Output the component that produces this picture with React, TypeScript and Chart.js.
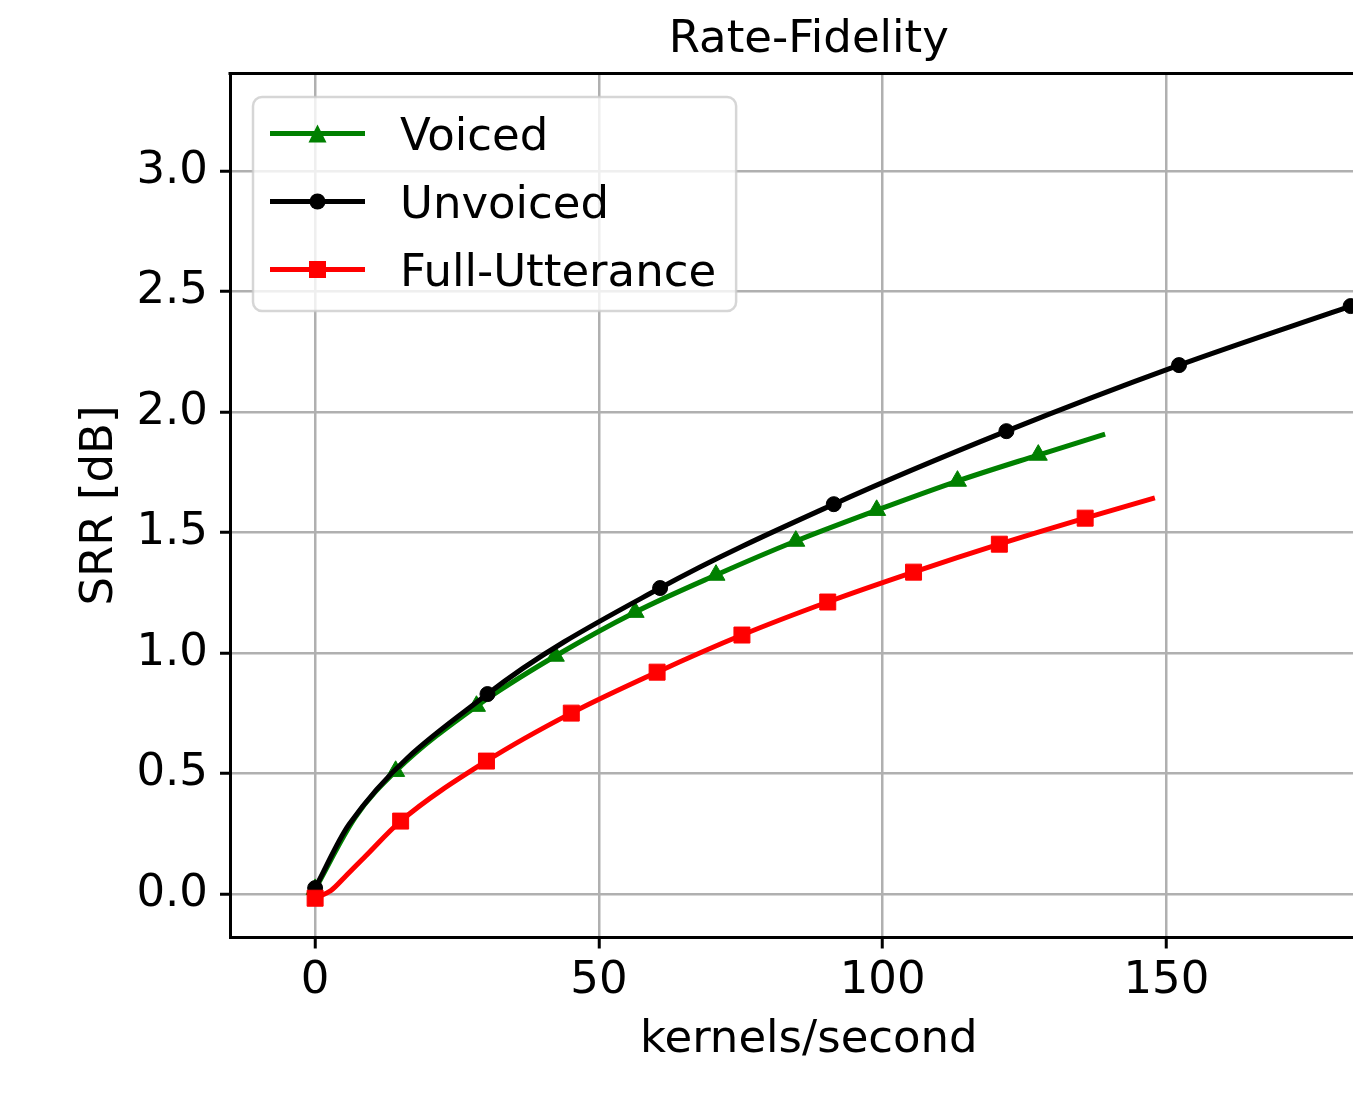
import React, { useEffect, useRef } from 'react';
import { Chart, registerables } from 'chart.js';

Chart.register(...registerables);

// ---------- data ----------
const chartTitle = 'Rate-Fidelity';
const xAxisLabel = 'kernels/second';
const yAxisLabel = 'SRR [dB]';

const xTickValues = [0, 50, 100, 150];
const xTickLabels = ['0', '50', '100', '150'];
const yTickValues = [0, 0.5, 1, 1.5, 2, 2.5, 3];
const yTickLabels = ['0.0', '0.5', '1.0', '1.5', '2.0', '2.5', '3.0'];

const voicedX = [0, 7.1, 14.19, 28.43, 42.33, 56.39, 70.64, 84.7, 98.95, 113.19, 127.43, 139.2];
const voicedY = [0.02, 0.32, 0.51, 0.78, 0.988, 1.17, 1.324, 1.465, 1.593, 1.714, 1.822, 1.909];
const voicedMarked = [1, 0, 1, 1, 1, 1, 1, 1, 1, 1, 1, 0];

const unvoicedX = [0, 6.0, 30.37, 60.79, 91.39, 121.81, 152.23, 182.47];
const unvoicedY = [0.025, 0.29, 0.83, 1.27, 1.618, 1.921, 2.195, 2.44];
const unvoicedMarked = [1, 0, 1, 1, 1, 1, 1, 1];

const fullX = [0, 2.8, 5.2, 8.9, 15.07, 30.19, 45.14, 60.26, 75.21, 90.33, 105.45, 120.57, 135.69, 147.97];
const fullY = [-0.017, 0.015, 0.07, 0.158, 0.303, 0.552, 0.751, 0.921, 1.075, 1.212, 1.336, 1.452, 1.56, 1.644];
const fullMarked = [1, 0, 0, 0, 1, 1, 1, 1, 1, 1, 1, 1, 1, 0];

// ---------- styling ----------
const FONT = "'DejaVu Sans', sans-serif";
const FS = 45;

const frameAndLegend = {
  id: 'frameAndLegend',
  afterDatasetsDraw(chart: any) {
    const { ctx, chartArea: a } = chart;
    ctx.save();
    // top & right spines
    ctx.strokeStyle = '#000';
    ctx.lineWidth = 3;
    ctx.beginPath();
    ctx.moveTo(a.left - 1.5, a.top);
    ctx.lineTo(a.right + 1.5, a.top);
    ctx.moveTo(a.right, a.top);
    ctx.lineTo(a.right, a.bottom);
    ctx.stroke();

    // legend
    const datasets = chart.data.datasets;
    ctx.font = `${FS}px ${FONT}`;
    const bx = a.left + 23;
    const by = a.top + 23.5;
    const firstRow = 36.5;
    const rowH = 68;
    const lineX0 = bx + 17;
    const lineX1 = bx + 112;
    const textX = bx + 147;
    let maxW = 0;
    datasets.forEach((d: any) => { maxW = Math.max(maxW, ctx.measureText(d.label).width); });
    const bw = textX - bx + maxW + 20;
    const bh = 214;
    const r = 9;
    ctx.beginPath();
    ctx.moveTo(bx + r, by);
    ctx.lineTo(bx + bw - r, by);
    ctx.arcTo(bx + bw, by, bx + bw, by + r, r);
    ctx.lineTo(bx + bw, by + bh - r);
    ctx.arcTo(bx + bw, by + bh, bx + bw - r, by + bh, r);
    ctx.lineTo(bx + r, by + bh);
    ctx.arcTo(bx, by + bh, bx, by + bh - r, r);
    ctx.lineTo(bx, by + r);
    ctx.arcTo(bx, by, bx + r, by, r);
    ctx.closePath();
    ctx.fillStyle = 'rgba(255,255,255,0.8)';
    ctx.fill();
    ctx.strokeStyle = 'rgba(204,204,204,0.8)';
    ctx.lineWidth = 2.5;
    ctx.stroke();

    datasets.forEach((d: any, i: number) => {
      const y = by + firstRow + i * rowH;
      const color = d.borderColor;
      ctx.strokeStyle = color;
      ctx.fillStyle = color;
      ctx.lineWidth = 5;
      ctx.lineCap = 'butt';
      ctx.beginPath();
      ctx.moveTo(lineX0, y);
      ctx.lineTo(lineX1, y);
      ctx.stroke();
      const mx = (lineX0 + lineX1) / 2;
      ctx.beginPath();
      if (d.pointStyle === 'triangle') {
        ctx.moveTo(mx, y - 9);
        ctx.lineTo(mx + 9, y + 9);
        ctx.lineTo(mx - 9, y + 9);
        ctx.closePath();
      } else if (d.pointStyle === 'circle') {
        ctx.arc(mx, y, 8, 0, Math.PI * 2);
      } else {
        ctx.rect(mx - 8.5, y - 8.5, 17, 17);
      }
      ctx.fill();
      ctx.fillStyle = '#000';
      ctx.textAlign = 'left';
      ctx.textBaseline = 'alphabetic';
      ctx.fillText(d.label, textX, y + 16.5);
    });
    ctx.restore();
  },
};

function series(label: string, xs: number[], ys: number[], marks: number[], color: string,
  style: string, radius: number, order: number) {
  return {
    label,
    data: xs.map((x, i) => ({ x, y: ys[i] })),
    borderColor: color,
    backgroundColor: color,
    borderWidth: 5,
    borderJoinStyle: 'round',
    borderCapStyle: 'butt',
    cubicInterpolationMode: 'monotone',
    pointStyle: style,
    pointRadius: marks.map((m) => (m ? radius : 0)),
    pointHoverRadius: marks.map((m) => (m ? radius : 0)),
    pointBackgroundColor: color,
    pointBorderColor: color,
    pointBorderWidth: 1,
    fill: false,
    order,
  };
}

export default function App() {
  const ref = useRef<HTMLCanvasElement>(null);

  useEffect(() => {
    const canvas = ref.current!;
    const tickFont = { family: FONT, size: FS, lineHeight: 1.2 };
    const chart = new Chart(canvas, {
      type: 'line',
      data: {
        datasets: [
          series('Voiced', voicedX, voicedY, voicedMarked, '#008000', 'triangle', 10.4, 3),
          series('Unvoiced', unvoicedX, unvoicedY, unvoicedMarked, '#000000', 'circle', 7.5, 2),
          series('Full-Utterance', fullX, fullY, fullMarked, '#ff0000', 'rect', 11.3, 1),
        ] as any,
      },
      options: {
        animation: false,
        responsive: false,
        devicePixelRatio: 1,
        layout: { padding: { left: 0, right: 10, top: 0, bottom: 0 } },
        plugins: {
          legend: { display: false },
          tooltip: { enabled: false },
          title: {
            display: true,
            text: chartTitle,
            fullSize: false,
            color: '#000',
            font: { family: FONT, size: FS, weight: 'normal', lineHeight: 1.2 },
            padding: { top: 13.8, bottom: 5.7 },
          },
        },
        scales: {
          x: {
            type: 'linear',
            min: -15,
            max: 189,
            afterFit: (s: any) => { s.height = 167.5; },
            afterBuildTicks: (s: any) => { s.ticks = xTickValues.map((v) => ({ value: v })); },
            ticks: {
              font: tickFont,
              color: '#000',
              padding: 6,
              maxRotation: 0,
              autoSkip: false,
              callback: (_v: any, i: number) => xTickLabels[i],
            },
            grid: { color: '#b0b0b0', lineWidth: 2.5, tickLength: 11, tickColor: '#000', tickWidth: 3 },
            border: { color: '#000', width: 3 },
            title: {
              display: true,
              text: xAxisLabel,
              color: '#000',
              font: tickFont,
              padding: { top: 0, bottom: 37.3 },
            },
          },
          y: {
            type: 'linear',
            min: -0.18,
            max: 3.405,
            afterFit: (s: any) => { s.width = 230; },
            afterBuildTicks: (s: any) => { s.ticks = yTickValues.map((v) => ({ value: v })); },
            ticks: {
              font: tickFont,
              color: '#000',
              padding: 12,
              autoSkip: false,
              callback: (_v: any, i: number) => yTickLabels[i],
            },
            grid: { color: '#b0b0b0', lineWidth: 2.5, tickLength: 10, tickColor: '#000', tickWidth: 3 },
            border: { color: '#000', width: 3 },
            title: {
              display: true,
              text: yAxisLabel,
              color: '#000',
              font: tickFont,
              padding: { top: 73, bottom: 0 },
            },
          },
        },
      } as any,
      plugins: [frameAndLegend],
    });
    return () => chart.destroy();
  }, []);

  return (
    <div style={{ position: 'fixed', left: 0, top: 0, width: 1353, height: 1105, overflow: 'hidden', background: '#fff' }}>
      <canvas ref={ref} width={1400} height={1105} style={{ display: 'block', width: 1400, height: 1105 }} />
    </div>
  );
}
